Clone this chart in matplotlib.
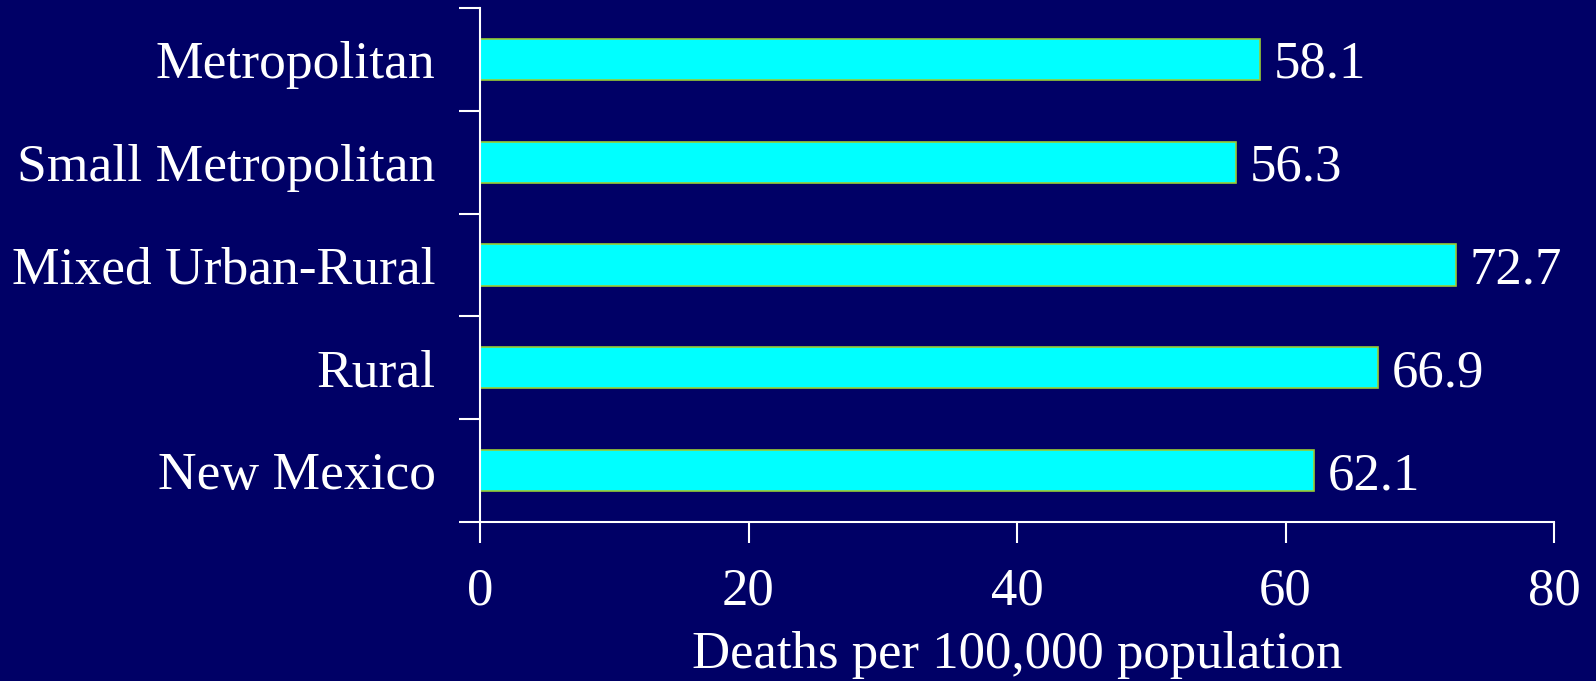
import matplotlib.pyplot as plt
import numpy as np

# data
categories = ['Metropolitan', 'Small Metropolitan', 'Mixed Urban-Rural', 'Rural', 'New Mexico']
values = [58.1, 56.3, 72.7, 66.9, 62.1]
xticks = [0, 20, 40, 60, 80]

bg = '#000066'
plt.rcParams['font.family'] = ['Liberation Serif', 'DejaVu Serif']

fig = plt.figure(figsize=(15.96, 6.81), dpi=100, facecolor=bg)
ax = fig.add_axes([480/1596, 1 - 522/681, (1554 - 480)/1596, (522 - 8)/681])
ax.set_facecolor(bg)

y = np.arange(len(categories))
bars = ax.barh(y, values, height=0.4, color='#00FFFF', edgecolor='#99CC33', linewidth=1.2)

for bar, v in zip(bars, values):
    ax.annotate(f'{v:.1f}', xy=(v, bar.get_y() + bar.get_height() / 2),
                xytext=(10, -4), textcoords='offset points',
                ha='left', va='center', color='white', fontsize=38)

ax.set_ylim(len(categories) - 0.5, -0.5)
ax.set_xlim(0, 80)
ax.set_xticks(xticks)
ax.set_xticklabels([str(t) for t in xticks], fontsize=38, color='white')

# category labels centred, ticks on the boundaries
ax.set_yticks(y)
ax.set_yticklabels(categories, fontsize=38.5, color='white')
ax.tick_params(axis='y', length=0, pad=32)
ax.set_yticks(np.arange(-0.5, len(categories)), minor=True)
ax.tick_params(axis='y', which='minor', length=15, width=1.5, color='white', direction='out')
ax.tick_params(axis='x', length=15, width=1.5, color='white', direction='out', pad=18)

for side in ['top', 'right']:
    ax.spines[side].set_visible(False)
for side in ['left', 'bottom']:
    ax.spines[side].set_color('white')
    ax.spines[side].set_linewidth(1.5)

ax.set_xlabel('Deaths per 100,000 population', fontsize=38, color='white', labelpad=11)

plt.savefig('out.png', dpi=100, facecolor=bg)
